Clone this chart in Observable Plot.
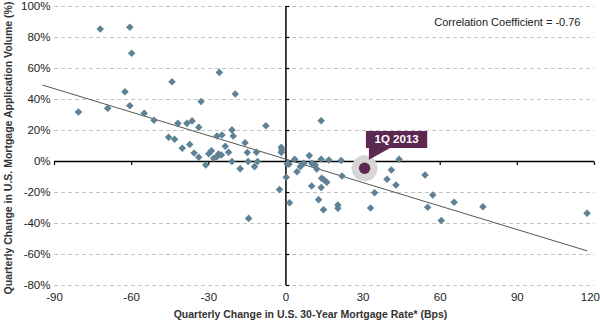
<!DOCTYPE html>
<html>
<head>
<meta charset="utf-8">
<script src="https://cdn.jsdelivr.net/npm/d3@7"></script>
<script src="https://cdn.jsdelivr.net/npm/@observablehq/plot@0.6"></script>
<style>
  html, body { margin: 0; padding: 0; background: #fff; }
  #chart { width: 600px; height: 321px; }
</style>
</head>
<body>
<div id="chart"></div>
<script>
// Quarterly change in 30-year mortgage rate (bps)
const rateChange = [
  -80.7, -72.2, -69.3, -62.6, -60.7, -60.0, -60.7, -55.1, -51.3, -45.6,
  -44.3, -43.3, -42.0, -40.3, -38.5, -37.4, -36.5, -35.7, -33.9, -33.9,
  -33.0, -31.2, -30.0, -29.0, -28.1, -26.8, -26.2, -25.1, -26.8, -25.9,
  -24.9, -23.6, -22.3, -21.0, -20.5, -21.0, -19.7, -17.8, -15.9, -15.0,
  -14.7, -14.5, -12.2, -11.5, -11.0, -7.8, -2.5, -1.8, -1.6, -1.8,
  0.1, 0.5, 1.2, 1.4, 3.4, 4.3, 5.6, 6.9, 9.1, 10.1,
  10.0, 11.4, 12.0, 12.7, 13.7, 13.7, 13.9, 14.8, 15.9, 13.7,
  14.6, 16.7, 20.2, 20.2, 21.5, 21.8, 32.9, 34.5, 39.3, 41.0,
  42.8, 44.0, 54.1, 55.1, 57.1, 60.4, 65.4, 76.6, 117.1
];
// Quarterly change in mortgage application volume (%)
const volumeChange = [
  31.9, 85.5, 34.3, 45.0, 86.6, 69.8, 36.0, 31.1, 26.6, 15.6,
  51.5, 14.3, 24.6, 8.5, 24.6, 11.0, 26.2, 5.5, 22.1, 2.8,
  38.7, -2.3, 5.0, 7.0, 2.1, 3.1, 4.8, 4.2, 16.5, 57.5,
  17.1, 9.8, 6.0, 20.4, 16.4, 0.0, 43.5, -4.6, 12.1, 5.8,
  0.0, -36.7, -3.3, 6.0, 0.0, 23.1, -18.0, 9.2, 7.6, 5.9,
  -10.2, -1.4, -1.8, -26.6, 1.5, -6.6, -3.3, -1.2, 3.8, -1.2,
  -15.8, -2.3, -4.8, -24.6, 26.3, 1.5, -10.8, -11.8, -13.4, -16.8,
  -31.1, 1.0, -28.1, -30.2, 0.7, -9.4, -30.0, -20.1, -11.5, -5.5,
  -15.2, 1.5, -8.7, -29.5, -21.6, -38.0, -26.3, -29.2, -33.4
];
// Highlighted quarter
const highlightLabel = ["1Q 2013"];
const highlightRate = [30.6];
const highlightVolume = [-4.4];
// Trend line (linear fit) endpoints and coefficients
const trendRange = [-94.5, 117];
const trendSlope = -0.505;
const trendIntercept = 1.5;
const correlationText = ["Correlation Coefficient = -0.76"];
// Axes
const xTicks = [-90, -60, -30, 0, 30, 60, 90, 120];
const yTicks = [-80, -60, -40, -20, 0, 20, 40, 60, 80, 100];
const xTitle = ["Quarterly Change in U.S. 30-Year Mortgage Rate* (Bps)"];
const yTitle = ["Quarterly Change in U.S. Mortgage Application Volume (%)"];

const points = rateChange.map((x, i) => ({x, y: volumeChange[i]}));
const trend = trendRange.map(x => ({x, y: trendIntercept + trendSlope * x}));
const highlight = highlightLabel.map((label, i) => ({label, x: highlightRate[i], y: highlightVolume[i]}));
const xTicksInner = xTicks.slice(0, -1);
const xTickLast = xTicks.slice(-1);

const tickRight = {draw(ctx) { ctx.moveTo(0, 0); ctx.lineTo(3.5, 0); }};
const tickDown = {draw(ctx) { ctx.moveTo(0, 0); ctx.lineTo(0, 3.5); }};
const callout = {draw(ctx) {
  ctx.moveTo(1.3, -37.3);
  ctx.lineTo(62.6, -37.3);
  ctx.lineTo(62.6, -20.3);
  ctx.lineTo(25.5, -20.3);
  ctx.lineTo(4.3, -8.5);
  ctx.lineTo(4.3, -20.3);
  ctx.lineTo(1.3, -20.3);
  ctx.closePath();
}};

const font = "'Liberation Sans', Arial, sans-serif";

const chart = Plot.plot({
  width: 600,
  height: 321,
  marginLeft: 54,
  marginRight: 6,
  marginTop: 6,
  marginBottom: 36,
  style: {fontFamily: font, fontSize: "11px", color: "#222", background: "#fff", overflow: "visible"},
  x: {domain: [-90, 120]},
  y: {domain: [-80, 100]},
  marks: [
    Plot.gridY(yTicks, {stroke: "#c4c4c4", strokeOpacity: 1, strokeDasharray: "4,3"}),
    Plot.axisY({ticks: yTicks, tickSize: 0, tickPadding: 4, tickFormat: d => `${d}%`, label: null, fontSize: 11.5}),
    Plot.axisX({ticks: xTicksInner, tickSize: 0, tickPadding: 7, tickFormat: d => `${d}`, label: null, fontSize: 11.5}),
    Plot.axisX({ticks: xTickLast, tickSize: 0, tickPadding: 7, tickFormat: d => `${d}`, label: null, fontSize: 11.5, textAnchor: "end", dx: 5.5}),
    Plot.ruleX([0], {stroke: "#000", strokeWidth: 1.5}),
    Plot.ruleY([0], {stroke: "#000", strokeWidth: 1.5}),
    Plot.dot(yTicks, {x: d => 0, y: d => d, symbol: tickRight, stroke: "#000", fill: "none", strokeWidth: 1.2}),
    Plot.dot(xTicks, {x: d => d, y: d => 0, symbol: tickDown, stroke: "#000", fill: "none", strokeWidth: 1.2}),
    Plot.line(trend, {x: "x", y: "y", stroke: "#555", strokeWidth: 1}),
    Plot.dot(points, {x: "x", y: "y", symbol: "diamond2", r: 3.4, fill: "#5e8196", stroke: "none"}),
    Plot.dot(highlight, {x: "x", y: "y", r: 13, fill: "#d6d6d6", stroke: "none"}),
    Plot.dot(highlight, {x: "x", y: "y", symbol: callout, fill: "#5c2750", stroke: "none"}),
    Plot.dot(highlight, {x: "x", y: "y", r: 5.7, fill: "#5c2750", stroke: "none"}),
    Plot.text(highlight, {x: "x", y: "y", text: "label", dx: 32, dy: -28.8, fill: "#fff", fontWeight: "bold", fontSize: 11.5, textAnchor: "middle", lineAnchor: "middle"}),
    Plot.text(correlationText, {text: d => d, frameAnchor: "top-right", textAnchor: "end", lineAnchor: "middle", dx: -14, dy: 16, fontSize: 11, fill: "#222"}),
    Plot.text(xTitle, {text: d => d, frameAnchor: "bottom", textAnchor: "middle", lineAnchor: "middle", dx: -14, dy: 29, fontSize: 10.5, fontWeight: "bold", fill: "#333"}),
    Plot.text(yTitle, {text: d => d, frameAnchor: "left", rotate: -90, textAnchor: "middle", lineAnchor: "middle", dx: -46, dy: 2, fontSize: 10.5, fontWeight: "bold", fill: "#333"})
  ]
});
document.getElementById("chart").appendChild(chart);
</script>
</body>
</html>
